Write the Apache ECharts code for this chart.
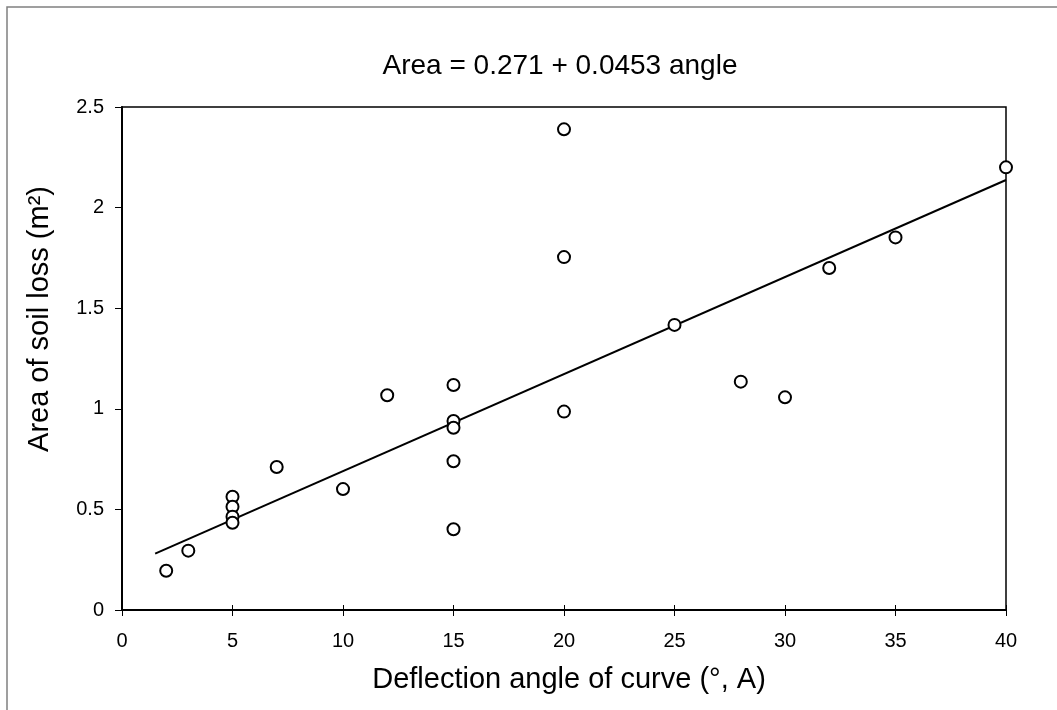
<!DOCTYPE html>
<html>
<head>
<meta charset="utf-8">
<script src="https://cdn.jsdelivr.net/npm/echarts@6/dist/echarts.min.js"></script>
<style>
html,body{margin:0;padding:0;background:#fff;}
#chart{width:1057px;height:710px;}
</style>
</head>
<body>
<div id="chart"></div>
<script>
var angleX = [2, 3, 5, 5, 5, 5, 7, 10, 12, 15, 15, 15, 15, 15, 20, 20, 20, 25, 28, 30, 32, 35, 40];
var areaY = [0.195, 0.295, 0.563, 0.513, 0.464, 0.434, 0.711, 0.601, 1.067, 1.118, 0.939, 0.906, 0.739, 0.401, 2.389, 1.754, 0.986, 1.417, 1.135, 1.057, 1.70, 1.852, 2.20];
var trendX = [1.5, 40];
var trendY = [0.28, 2.137];
var titleText = 'Area = 0.271 + 0.0453 angle';
var xName = 'Deflection angle of curve (°, A)';
var yName = 'Area of soil loss (m²)';

var pts = angleX.map(function (x, i) { return [x, areaY[i]]; });
var trend = trendX.map(function (x, i) { return [x, trendY[i]]; });

var chart = echarts.init(document.getElementById('chart'), null, {renderer: 'canvas'});
var font = 'Arial, "Liberation Sans", sans-serif';
chart.setOption({
  animation: false,
  backgroundColor: '#fff',
  graphic: [{
    type: 'rect',
    shape: {x: 7, y: 7, width: 1100, height: 760},
    style: {fill: 'none', stroke: '#808080', lineWidth: 1.5},
    silent: true
  }, {
    type: 'text',
    x: 560, y: 66,
    style: {text: titleText, fontFamily: font, fontSize: 28, fill: '#000', align: 'center', verticalAlign: 'middle'},
    silent: true
  }, {
    type: 'text',
    x: 40, y: 319,
    rotation: Math.PI / 2,
    style: {text: yName, fontFamily: font, fontSize: 29, fill: '#000', align: 'center', verticalAlign: 'middle'},
    silent: true
  }],
  grid: {left: 122, right: 51, top: 107, bottom: 100, show: true, borderColor: '#000', borderWidth: 1.5, backgroundColor: 'transparent'},
  xAxis: [{
    type: 'value', min: 0, max: 40, interval: 5,
    name: xName, nameLocation: 'middle', nameGap: 55,
    nameTextStyle: {fontFamily: font, fontSize: 29, color: '#000', padding: [0, 0, 0, 10]},
    axisLine: {show: true, onZero: false, lineStyle: {color: '#000', width: 2}},
    axisTick: {show: true, length: 6, lineStyle: {color: '#000', width: 1}},
    axisLabel: {fontFamily: font, fontSize: 20, color: '#000', margin: 21},
    splitLine: {show: false}
  }, {
    type: 'value', min: 0, max: 40, interval: 5, position: 'bottom',
    axisLine: {show: false},
    axisTick: {show: true, inside: true, length: 5, lineStyle: {color: '#000', width: 1}},
    axisLabel: {show: false},
    splitLine: {show: false}
  }],
  yAxis: {
    type: 'value', min: 0, max: 2.5, interval: 0.5,
    axisLine: {show: true, onZero: false, lineStyle: {color: '#000', width: 2}},
    axisTick: {show: true, length: 7, lineStyle: {color: '#000', width: 1}},
    axisLabel: {fontFamily: font, fontSize: 20, color: '#000', margin: 18},
    splitLine: {show: false}
  },
  series: [{
    type: 'line',
    data: trend,
    symbol: 'none',
    lineStyle: {color: '#000', width: 2},
    silent: true,
    z: 2
  }, {
    type: 'scatter',
    data: pts,
    symbol: 'circle',
    symbolSize: 12,
    itemStyle: {color: '#fff', borderColor: '#000', borderWidth: 2, opacity: 1},
    z: 3
  }]
});
</script>
</body>
</html>
